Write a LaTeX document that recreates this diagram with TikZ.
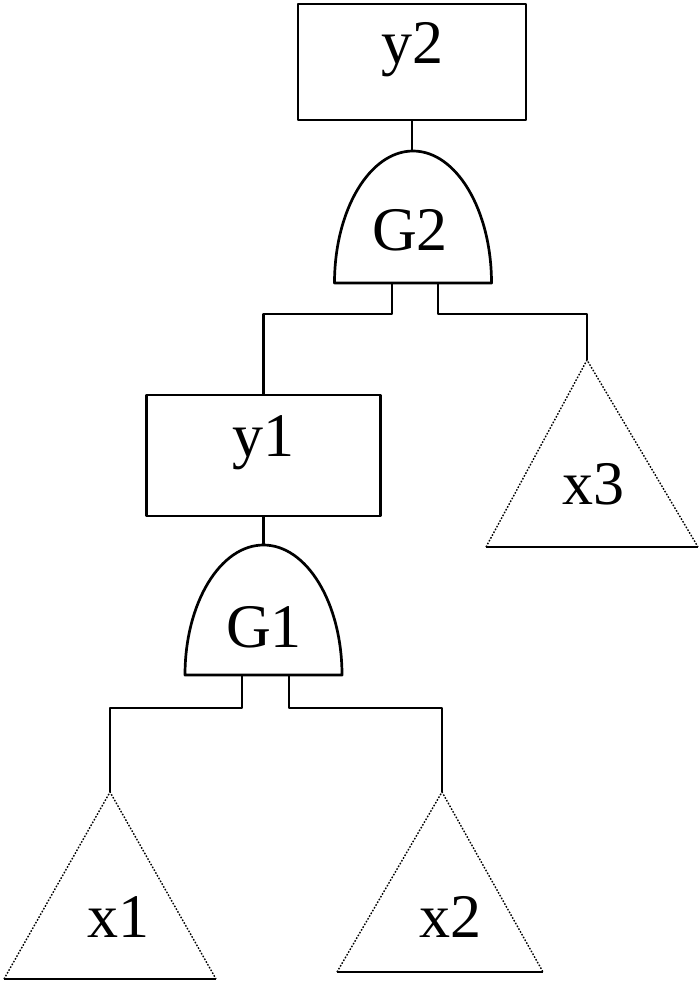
\documentclass[tikz,border=0pt]{standalone}
\usepackage{fontspec}
\setmainfont{Liberation Serif}
\usetikzlibrary{positioning}

\tikzset{
  event/.style={draw, rectangle, line width=2.7pt, text height=.68em, text depth=.42em},
  gate/.style={draw, line width=2.7pt},
  link/.style={line width=2.7pt},
  leaf/.style={line width=1.4pt, dash pattern=on 1.6pt off 1.6pt},
  leafbase/.style={line width=2.7pt},
  txt/.style={anchor=base, inner sep=0pt}
}

\begin{document}
\begin{tikzpicture}[x=1pt, y=-1pt, line join=round,
    every node/.style={font=\fontsize{62}{70}\selectfont}]
    \useasboundingbox (0,0) rectangle (700,982);

    \node[event, minimum width=228pt, minimum height=116pt] (y2) at (412,62) {y2};
    \draw[gate] (334.5,283) arc[start angle=180, end angle=360, x radius=78.5, y radius=132] -- cycle;
    \node[txt] (G2) at (410,250) {G2};
    \coordinate (G2top) at (412,151);
    \coordinate (G2l) at (392,283);
    \coordinate (G2r) at (438,283);

    \node[event, minimum width=234pt, minimum height=121pt] (y1) at (263.5,455.5) {y1};
    \draw[gate] (185,675) arc[start angle=180, end angle=360, x radius=78.5, y radius=130] -- cycle;
    \node[txt] (G1) at (264,647) {G1};
    \coordinate (G1top) at (263.5,545);
    \coordinate (G1l) at (242,675);
    \coordinate (G1r) at (289,675);

    \coordinate (x3top) at (587,360);
    \draw[leaf] (486,547) -- (x3top) -- (698,547);
    \draw[leafbase] (486,547) -- (698,547);
    \node[txt] (x3) at (593,504) {x3};

    \coordinate (x1top) at (110,792);
    \draw[leaf] (4,979) -- (x1top) -- (216,979);
    \draw[leafbase] (4,979) -- (216,979);
    \node[txt] (x1) at (118,937) {x1};

    \coordinate (x2top) at (442,792);
    \draw[leaf] (337,972) -- (x2top) -- (543,972);
    \draw[leafbase] (337,972) -- (543,972);
    \node[txt] (x2) at (450,937) {x2};

    \draw[link] (y2.south) -- (G2top);
    \draw[link] (G2l) -- ++(0,31) -| (y1.north);
    \draw[link] (G2r) -- ++(0,31) -| (x3top);
    \draw[link] (y1.south) -- (G1top);
    \draw[link] (G1l) -- ++(0,33) -| (x1top);
    \draw[link] (G1r) -- ++(0,33) -| (x2top);
\end{tikzpicture}
\end{document}
